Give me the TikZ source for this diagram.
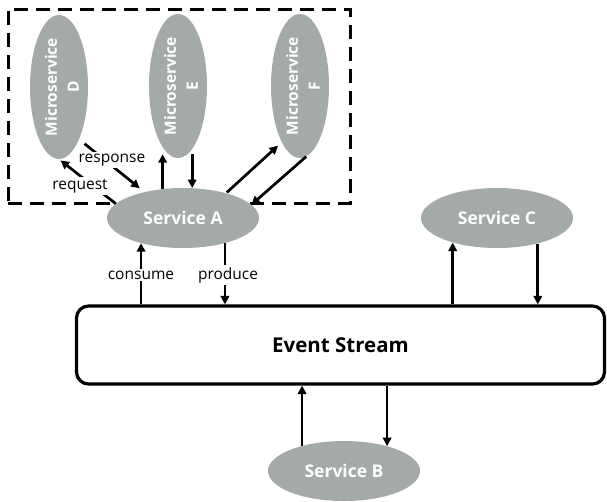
\documentclass[tikz,border=0pt]{standalone}
\usepackage{fontspec}
\setmainfont{Open Sans}
\usetikzlibrary{arrows.meta,shapes.geometric}
\definecolor{svcgrey}{RGB}{164,170,167}
\begin{document}
\begin{tikzpicture}[x=1pt,y=-1pt,
  svc/.style={ellipse, fill=svcgrey, text=white, font=\fontsize{17.5}{20}\selectfont\bfseries, minimum width=152pt, minimum height=60pt, inner sep=0pt},
  ms/.style={ellipse, fill=svcgrey, minimum width=58pt, minimum height=144pt, inner sep=0pt},
  mstext/.style={rotate=90, align=center, text=white, font=\fontsize{15.5}{22}\selectfont\bfseries},
  arr/.style={line width=2.7pt, -{Triangle[width=8.5pt,length=8.5pt]}},
  lbl/.style={fill=white, inner sep=2pt, font=\fontsize{15.5}{18}\selectfont},
  grp/.style={draw, line width=3pt, dash pattern=on 14pt off 8pt, minimum width=342pt, minimum height=194pt, inner sep=0pt},
  stream/.style={draw, line width=3.2pt, rounded corners=12pt, minimum width=528pt, minimum height=78pt, font=\fontsize{20.5}{24}\selectfont\bfseries}
]
\useasboundingbox (0,0) rectangle (607,501);

\node[grp] (G) at (179,106) {};

\node[ms] (D) at (59,87) {};
\node[ms] (E) at (178,86) {};
\node[ms] (F) at (300,86) {};
\node[mstext] (Dt) at ([xshift=3pt]D.center) {Microservice\\D};
\node[mstext] (Et) at ([xshift=3pt]E.center) {Microservice\\E};
\node[mstext] (Ft) at ([xshift=3pt]F.center) {Microservice\\F};

\node[svc] (A) at (183,218) {Service A};
\node[svc] (C) at (497,218) {Service C};
\node[svc] (B) at (344,471) {Service B};

\node[stream] (ES) at (340.5,345) {Event Stream};

% Service A <-> Event Stream
\draw[arr] (ES.north -| A.211) -- (A.211);
\draw[arr] (A.329) -- (A.329 |- ES.north);
\node[lbl] (consume) at (141,275) {consume};
\node[lbl] (produce) at (228,275) {produce};

% Service A <-> E
\draw[arr] (A.125) -- ([yshift=4pt]A.125 |- E.south);
\draw[arr] ([yshift=4pt]E.south -| A.73) -- (A.73);

% Service A <-> F
\draw[arr, shorten <=1pt, shorten >=5pt] (A.30) -- (F.252);
\draw[arr] (F.275) -- (A.11);

% Service A <-> D
\draw[arr, shorten <=7pt, shorten >=6pt] (D.291) -- (A.146);
\draw[arr, shorten >=2pt] (A.168) -- (D.south);
\node[lbl] (response) at (112,160) {response};
\node[lbl] (request) at (80,186) {request};

% Service C <-> Event Stream
\draw[arr] (ES.north -| C.209) -- (C.209);
\draw[arr] (C.328) -- (C.328 |- ES.north);

% Service B <-> Event Stream
\draw[arr] (B.149) -- (B.149 |- ES.south);
\draw[arr] (B.30 |- ES.south) -- (B.30);
\end{tikzpicture}
\end{document}
